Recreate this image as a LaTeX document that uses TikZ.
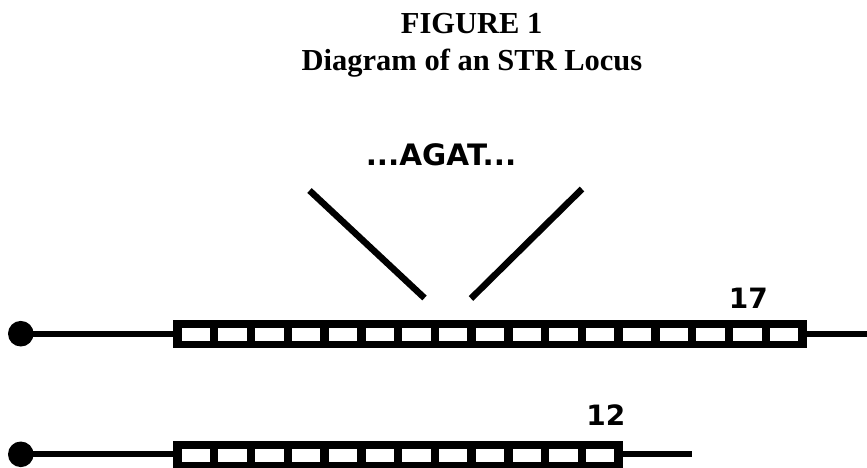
\documentclass[tikz,border=0pt]{standalone}
\usepackage{fontspec}
\setmainfont{Liberation Serif}
\newfontfamily\agatfont{DejaVu Sans}
\begin{document}
\begin{tikzpicture}[x=1pt,y=-1pt,
  dot/.style={circle,fill=black,inner sep=0pt,minimum size=25.6pt},
  strbox/.style={rectangle,fill=black,inner sep=0pt,minimum height=28.3pt},
  strand/.style={line width=6pt},
  pointer/.style={line width=6.5pt},
  cell/.style={fill=white},
  title/.style={font=\fontsize{30.5}{30.5}\selectfont\bfseries,anchor=base,inner sep=0pt},
  lab/.style={font=\agatfont\fontsize{29.5}{29.5}\selectfont\bfseries,anchor=base,inner sep=0pt},
  num/.style={font=\agatfont\fontsize{28}{28}\selectfont\bfseries,anchor=base,inner sep=0pt}]
\useasboundingbox (0,0) rectangle (867,467);
% titles
\node[title] (t1) at (471.7,33.3) {FIGURE 1};
\node[title] (t2) at (472,70) {Diagram of an STR Locus};
% repeat label and pointers
\node[lab] (agat) at (441,165.5) {...AGAT...};
\coordinate (p1a) at (309.5,190.5);
\coordinate (p1b) at (424.5,298);
\coordinate (p2a) at (582,189);
\coordinate (p2b) at (471,298.5);
\draw[pointer] (p1a) -- (p1b);
\draw[pointer] (p2a) -- (p2b);
% row 1 (17 repeats)
\node[dot] (d1) at (20.8,333.7) {};
\node[strbox,minimum width=633.7pt] (b1) at (489.85,334.15) {};
\coordinate (e1) at (870,333.7);
\draw[strand] (d1.center) -- (d1.center -| b1.west);
\draw[strand] (e1 -| b1.east) -- (e1);
\foreach \i in {0,...,16}
  \fill[cell] (181.7+\i*36.76,328.3) rectangle ++(28.4,12.7);
\node[num] (n17) at (748.3,308.3) {17};
% row 2 (12 repeats)
\node[dot] (d2) at (20.8,454.3) {};
\node[strbox,minimum width=449.7pt] (b2) at (397.85,455.15) {};
\coordinate (e2) at (691.7,454.3);
\draw[strand] (d2.center) -- (d2.center -| b2.west);
\draw[strand] (e2 -| b2.east) -- (e2);
\foreach \i in {0,...,11}
  \fill[cell] (181.7+\i*36.76,448.6) rectangle ++(28.4,12.9);
\node[num] (n12) at (605.8,425.7) {12};
\end{tikzpicture}
\end{document}
